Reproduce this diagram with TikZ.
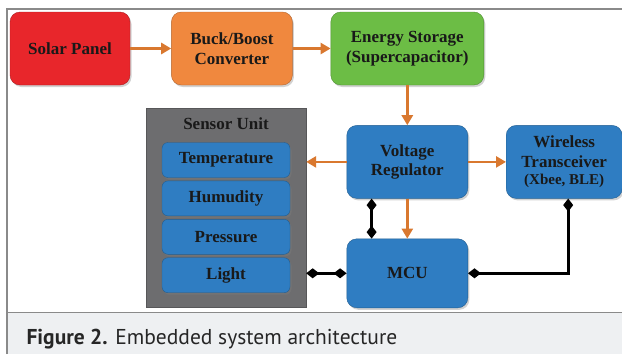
\documentclass[tikz,border=0pt]{standalone}
\usepackage{fontspec}
\setmainfont{Liberation Serif}
\newfontfamily\capfont{PT Sans}
\usetikzlibrary{arrows.meta, positioning, shadows}
\definecolor{solarred}{HTML}{E8262B}
\definecolor{buckorange}{HTML}{F0883E}
\definecolor{storegreen}{HTML}{6CBD45}
\definecolor{blockblue}{HTML}{2F7DC2}
\definecolor{unitgray}{HTML}{6D6D6F}
\definecolor{flow}{HTML}{D9782F}
\definecolor{framegray}{HTML}{8A8A8A}
\definecolor{capbg}{HTML}{EEF0F2}

\begin{document}
\begin{tikzpicture}[
  x=1pt, y=1pt,
  node distance=40pt,
  block/.style={draw=#1!75!black, fill=#1, rounded corners=10pt,
                minimum width=121pt, minimum height=73pt, inner sep=2pt,
                font=\bfseries\fontsize{17}{19.5}\selectfont, text=black!90,
                align=center,
                drop shadow={shadow xshift=1.5pt, shadow yshift=-2pt, opacity=.35}},
  block/.default=blockblue,
  sensor/.style={block, rounded corners=6pt, minimum width=128pt, minimum height=35pt},
  arr/.style={-{Triangle[length=10pt, width=11pt]}, line width=2.5pt, color=flow},
  link/.style={{Diamond[length=13pt, width=10pt]}-{Diamond[length=13pt, width=10pt]},
               line width=3pt, color=black}
]
  \useasboundingbox (0,0) rectangle (622,-354);
  \fill[white] (0,0) rectangle (622,-354);

  % frame and caption band
  \fill[capbg] (7,-312) rectangle (622,-354);
  \draw[framegray, line width=1.2pt] (7,-354) -- (7,-9) -- (622,-9);
  \draw[framegray, line width=1pt] (7,-312) -- (622,-312);

  % power chain
  \node[block=solarred, minimum width=120pt] (solar) at (70,-48.5) {Solar Panel};
  \node[block=buckorange, right=41pt of solar] (buck) {Buck/Boost\\Converter};
  \node[block=storegreen, minimum width=153pt, right=38pt of buck] (storage)
    {Energy Storage\\(Supercapacitor)};
  \node[block, below=of storage] (reg) {Voltage\\Regulator};
  \node[block, minimum width=116pt, right=38pt of reg] (radio)
    {Wireless\\Transceiver\\[-2pt]{\fontsize{15}{16}\selectfont (Xbee, BLE)}};
  \node[block, minimum height=69pt, below=of reg] (mcu) {MCU};

  % sensor unit
  \node[fill=unitgray, draw=unitgray!80!black, minimum width=160pt, minimum height=199pt]
    (unit) at (226,-207.5) {};
  \node[font=\bfseries\fontsize{17}{19.5}\selectfont, text=black!90] (unittitle) at (226,-124) {Sensor Unit};
  \node[sensor] (temp) at (226,-160) {Temperature};
  \node[sensor, below=3pt of temp] (humid) {Humudity};
  \node[sensor, below=3pt of humid] (press) {Pressure};
  \node[sensor, below=3pt of press] (light) {Light};

  % power flow
  \draw[arr] (solar) -- (buck);
  \draw[arr] (buck) -- (storage);
  \draw[arr] (storage) -- (reg);
  \draw[arr] (reg) -- (radio);
  \draw[arr] (reg) -- (mcu);
  \draw[arr] (reg.west) -- (reg.west -| unit.east);

  % data links
  \draw[link] ([xshift=25pt]reg.south west) -- ([xshift=25pt]mcu.north west);
  \draw[link] (mcu.east) -| ([xshift=4pt]radio.south);
  \draw[link] (mcu.west) -- (mcu.west -| unit.east);

  \node[anchor=base west, font=\capfont\fontsize{21.5}{24}\selectfont, text=black!85] (caption)
    at (23,-344) {\textbf{Figure 2.} Embedded system architecture};
\end{tikzpicture}
\end{document}
